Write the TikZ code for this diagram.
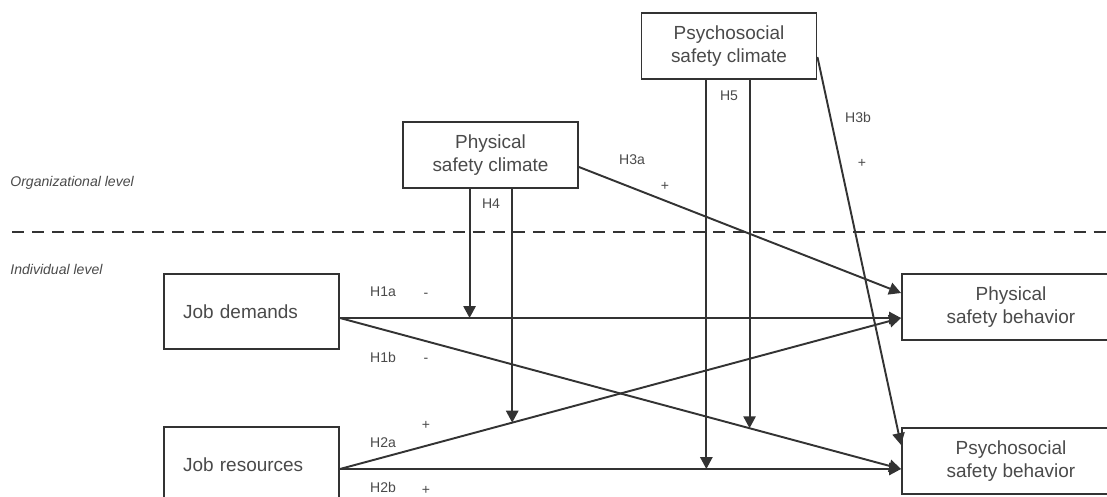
\documentclass[tikz,border=0pt]{standalone}
\usepackage{fontspec}
\setmainfont{Liberation Sans}
\usetikzlibrary{positioning,arrows.meta}
\definecolor{linegray}{HTML}{333333}
\definecolor{textgray}{HTML}{4a4a4a}

\begin{document}
\begin{tikzpicture}[
    x=0.02cm, y=-0.02cm,
    construct/.style={draw=linegray, line width=1.1pt, minimum width=3.5cm, minimum height=1.32cm, align=center, text=textgray, font=\fontsize{10.8}{13}\selectfont},
    jobbox/.style={construct, minimum height=1.5cm, text width=2.74cm, inner xsep=0.38cm, align=left},
    behavior/.style={construct, minimum width=6cm},
    hyp/.style={text=textgray, font=\fontsize{8}{9.6}\selectfont, inner sep=0pt},
    levellabel/.style={hyp, font=\fontsize{8}{9.6}\selectfont\itshape, anchor=west},
    relation/.style={-{Triangle[length=6.8pt,width=7pt]}, draw=linegray, line width=1.1pt},
    levelline/.style={draw=linegray, line width=1.1pt, dash pattern=on 6.8pt off 4.6pt}
]
\useasboundingbox (0,0) rectangle (1107,497);
\clip (0,0) rectangle (1107,497);

% Levels
\node[levellabel] (org_level) at (10,183) {Organizational level};
\node[levellabel] (ind_level) at (10,269) {Individual level};
\draw[levelline] (12,232) -- (1107,232);

% Climates
\node[construct] (phys_climate) at (490.5,155) {Physical\\safety climate};
\node[construct] (psy_climate) at (729,46) {Psychosocial\\safety climate};

% Job characteristics
\node[jobbox] (job_demands) at (251.5,311.5) {Job demands};
\node[jobbox] (job_resources) at (251.5,464.5) {Job resources};

% Behaviors (cut by the right margin)
\node[behavior] (phys_behavior) at (1052,307) {};
\node[behavior] (psy_behavior) at (1052,461) {};
\node[construct, draw=none, align=center] (phys_behavior_text) at (1011,307) {Physical\\safety behavior};
\node[construct, draw=none, align=center] (psy_behavior_text) at (1011,461) {Psychosocial\\safety behavior};

% Ports
\coordinate (jd_out) at ([yshift=-0.13cm]job_demands.east);
\coordinate (jr_out) at ([yshift=-0.09cm]job_resources.east);
\coordinate (pc_out) at ([yshift=-0.24cm]phys_climate.east);
\coordinate (sc_out) at ([yshift=-0.22cm]psy_climate.east);
\coordinate (pb_high) at ([yshift=0.28cm]phys_behavior.west);
\coordinate (pb_low) at ([yshift=-0.22cm]phys_behavior.west);
\coordinate (sb_high) at ([yshift=0.32cm]psy_behavior.west);
\coordinate (sb_low) at ([yshift=-0.16cm]psy_behavior.west);

% Main effects
\draw[relation] (jd_out) -- coordinate[pos=0.231] (h4_a) (pb_low);
\draw[relation] (jd_out) -- coordinate[pos=0.730] (h5_b) (sb_low);
\draw[relation] (jr_out) -- coordinate[pos=0.307] (h4_b) (pb_low);
\draw[relation] (jr_out) -- coordinate[pos=0.653] (h5_a) (sb_low);
\draw[relation] (pc_out) -- (pb_high);
\draw[relation] (sc_out) -- (sb_high);

% Moderation
\draw[relation] (phys_climate.south -| h4_a) -- (h4_a);
\draw[relation] (phys_climate.south -| h4_b) -- (h4_b);
\draw[relation] (psy_climate.south -| h5_a) -- (h5_a);
\draw[relation] (psy_climate.south -| h5_b) -- (h5_b);

% Hypotheses
\node[hyp] (h1a) at (383,292) {H1a};
\node[hyp] (h1a_sign) at (426,295) {-};
\node[hyp] (h1b) at (383,357) {H1b};
\node[hyp] (h1b_sign) at (426,360) {-};
\node[hyp] (h2a) at (383,443) {H2a};
\node[hyp] (h2a_sign) at (426,425) {+};
\node[hyp] (h2b) at (383,487) {H2b};
\node[hyp] (h2b_sign) at (426,490) {+};
\node[hyp] (h3a) at (632,160) {H3a};
\node[hyp] (h3a_sign) at (665,186) {+};
\node[hyp] (h3b) at (858,117) {H3b};
\node[hyp] (h3b_sign) at (862,163) {+};
\node[hyp] (h4) at (491,204) {H4};
\node[hyp] (h5) at (729,96) {H5};

\end{tikzpicture}
\end{document}
